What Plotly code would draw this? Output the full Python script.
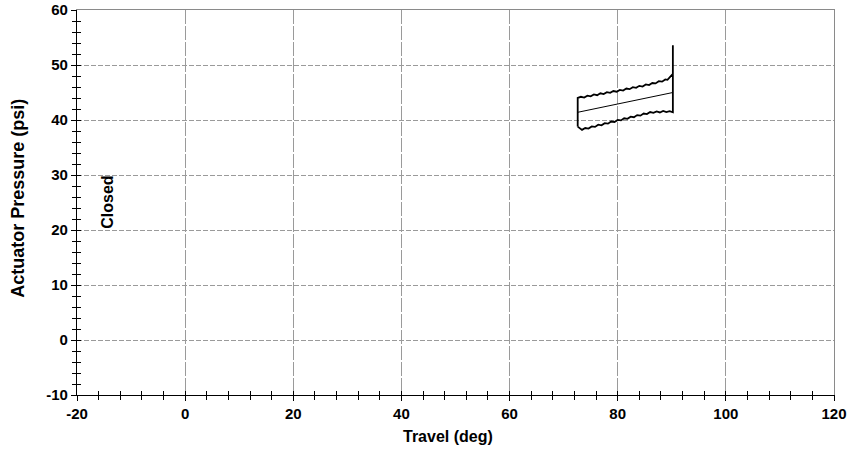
import plotly.graph_objects as go

# Hysteresis loop of actuator pressure vs. valve travel
upper_travel = [72.6, 72.6, 73.2, 73.8, 74.4, 75.0, 75.6, 76.2, 76.8, 77.4, 78.0, 78.6,
                79.2, 79.8, 80.4, 81.0, 81.6, 82.2, 82.8, 83.4, 84.0, 84.6, 85.2,
                85.8, 86.4, 87.0, 87.6, 88.2, 88.8, 89.2, 90.2, 90.2, 90.2]
upper_pressure = [38.8, 44.0, 44.22, 44.09, 44.43, 44.30, 44.64, 44.51, 44.85, 44.72, 45.06, 44.93,
                  45.27, 45.14, 45.48, 45.36, 45.72, 45.61, 45.97, 45.85, 46.21, 46.09, 46.46,
                  46.34, 46.72, 46.65, 47.05, 46.97, 47.37, 47.3, 48.4, 53.6, 41.4]

lower_travel = [90.2, 89.6, 89.0, 88.4, 87.8, 87.2, 86.6, 86.0, 85.4, 84.8, 84.2, 83.6,
                83.0, 82.4, 81.8, 81.2, 80.6, 80.0, 79.4, 78.8, 78.2, 77.6, 77.0,
                76.4, 75.8, 75.2, 74.6, 74.0, 73.4, 72.6]
lower_pressure = [41.4, 41.6, 41.44, 41.65, 41.37, 41.57, 41.30, 41.45, 41.07, 41.17, 40.79, 40.89,
                  40.50, 40.60, 40.22, 40.32, 39.93, 40.02, 39.64, 39.73, 39.34, 39.43, 39.04,
                  39.14, 38.75, 38.84, 38.45, 38.54, 38.2, 38.8]

mid_travel = [72.6, 90.2]
mid_pressure = [41.4, 45.0]

x_ticks = [-20, 0, 20, 40, 60, 80, 100, 120]
y_ticks = [-10, 0, 10, 20, 30, 40, 50, 60]

FONT = "Arial"
X_RANGE = [-20, 120]
Y_RANGE = [-10, 60]

fig = go.Figure()
fig.add_trace(go.Scatter(x=upper_travel + lower_travel, y=upper_pressure + lower_pressure,
                         mode="lines", line=dict(color="black", width=1.8),
                         hoverinfo="skip", showlegend=False))
fig.add_trace(go.Scatter(x=mid_travel, y=mid_pressure, mode="lines",
                         line=dict(color="black", width=1), showlegend=False))

grid_common = dict(gridcolor="#9a9a9a", gridwidth=1, zeroline=False, automargin=False,
                   ticklabeloverflow="allow",
                   showline=True, linecolor="black", linewidth=1.2,
                   tickfont=dict(family=FONT, size=15, color="black", weight="bold"))

fig.update_xaxes(range=X_RANGE, tickvals=x_ticks, ticktext=[str(v) for v in x_ticks],
                 griddash="14px,2px", ticks="outside", ticklen=5, tickcolor="black",
                 minor=dict(dtick=4, tick0=0, ticks="outside", ticklen=4,
                            tickcolor="black", showgrid=False),
                 **grid_common)
fig.update_yaxes(range=Y_RANGE, tickvals=y_ticks, ticktext=[str(v) for v in y_ticks],
                 griddash="5px,2px", ticks="outside", ticklen=5, tickcolor="black",
                 minor=dict(dtick=2, tick0=0, ticks="outside", ticklen=4,
                            tickcolor="black", showgrid=False),
                 **grid_common)

fig.update_layout(
    # inside ticks, so that tick marks cross the axis lines
    xaxis2=dict(overlaying="x", matches="x", range=X_RANGE, tickvals=x_ticks,
                showticklabels=False, showgrid=False, zeroline=False, automargin=False,
                ticks="inside", ticklen=4, tickcolor="black",
                minor=dict(dtick=4, tick0=0, ticks="inside", ticklen=4,
                           tickcolor="black", showgrid=False)),
    yaxis2=dict(overlaying="y", matches="y", range=Y_RANGE, tickvals=y_ticks,
                showticklabels=False, showgrid=False, zeroline=False, automargin=False,
                ticks="inside", ticklen=4, tickcolor="black",
                minor=dict(dtick=2, tick0=0, ticks="inside", ticklen=4,
                           tickcolor="black", showgrid=False)),
    # grey frame lines along the top and right edges
    xaxis3=dict(overlaying="x", matches="x", side="top", range=X_RANGE, showline=True,
                linecolor="#8a8a8a", linewidth=1, showticklabels=False, showgrid=False,
                zeroline=False, ticks="", automargin=False),
    yaxis3=dict(overlaying="y", matches="y", side="right", range=Y_RANGE, showline=True,
                linecolor="#8a8a8a", linewidth=1, showticklabels=False, showgrid=False,
                zeroline=False, ticks="", automargin=False),
)
fig.add_trace(go.Scatter(x=[None], y=[None], xaxis="x2", yaxis="y2", showlegend=False))
fig.add_trace(go.Scatter(x=[None], y=[None], xaxis="x3", yaxis="y3", showlegend=False))

fig.add_annotation(x=-14.4, y=25, xref="x", yref="y", text="Closed", textangle=-90,
                   showarrow=False, font=dict(family=FONT, size=16, color="black", weight="bold"))
fig.add_annotation(x=0.49, y=-0.109, xref="paper", yref="paper", text="Travel (deg)",
                   showarrow=False, yanchor="middle",
                   font=dict(family=FONT, size=16, color="black", weight="bold"))
fig.add_annotation(x=-0.079, y=0.51, xref="paper", yref="paper", text="Actuator Pressure (psi)",
                   textangle=-90, showarrow=False, xanchor="center",
                   font=dict(family=FONT, size=18, color="black", weight="bold"))

fig.update_layout(width=848, height=452, margin=dict(l=77, r=14, t=10, b=57),
                  paper_bgcolor="white", plot_bgcolor="white", showlegend=False)

fig.write_html("out.html")
